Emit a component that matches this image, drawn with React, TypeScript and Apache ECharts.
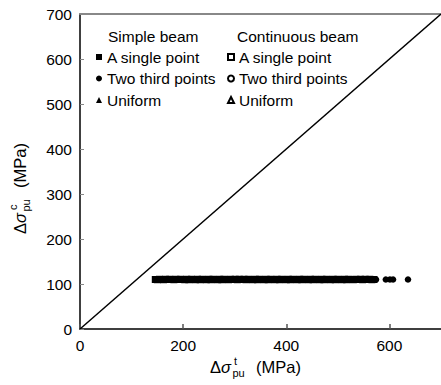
import React, { useEffect, useRef } from "react";
import * as echarts from "echarts";

const xTicks = [0, 200, 400, 600];
const yTicks = [0, 100, 200, 300, 400, 500, 600, 700];
const legendSimple = ["A single point", "Two third points", "Uniform"];
const legendContinuous = ["A single point", "Two third points", "Uniform"];
const diagonal: [number, number][] = [[0, 0], [700, 700]];

// Simple beam, a single point (the dense band)
const simpleSingle: [number, number][] = [
  [146, 110], [150, 109.5], [154, 110.5], [158, 110], [162, 109.5], [166, 110.5], [170, 110], [174, 110.5],
  [178, 110], [182, 109.5], [186, 110.5], [190, 110], [195, 110.5], [199, 110], [203, 109.5], [207, 110.5],
  [211, 109.5], [216, 110.5], [220, 110], [224, 109.5], [228, 110.5], [233, 109.5], [237, 110.5], [241, 110],
  [245, 109.5], [250, 110.5], [254, 109.5], [258, 110.5], [262, 110], [267, 109.5], [271, 110.5], [275, 109.5],
  [279, 110.5], [284, 110], [288, 109.5], [292, 110.5], [296, 110], [301, 110.5], [305, 109.5], [309, 110.5],
  [314, 110], [318, 110.5], [322, 109.5], [327, 110.5], [331, 110], [335, 109.5], [340, 110.5], [344, 109.5],
  [348, 110.5], [352, 110], [357, 109.5], [361, 110.5], [365, 109.5], [370, 110.5], [374, 110], [378, 109.5],
  [382, 110.5], [387, 109.5], [391, 110.5], [395, 110], [400, 109.5], [404, 110.5], [408, 109.5], [413, 110.5],
  [417, 110], [421, 109.5], [426, 110.5], [430, 109.5], [434, 110.5], [439, 110], [443, 109.5], [447, 110.5],
  [452, 109.5], [456, 110.5], [460, 110], [465, 109.5], [469, 110.5], [473, 109.5], [478, 110.5], [482, 110],
  [486, 109.5], [491, 110.5], [495, 109.5], [500, 110.5], [504, 110], [508, 109.5], [513, 110.5], [517, 109.5],
  [521, 110.5], [526, 110], [530, 109.5], [535, 110.5], [539, 110], [544, 110.5], [548, 109.5], [553, 110.5],
  [557, 110], [562, 110.5], [566, 109.5], [570, 110],
];
// Simple beam, two third points
const simpleTwoThird: [number, number][] = [
  [574, 110], [593, 110], [601, 110], [607, 110], [636, 110],
];
const simpleUniform: [number, number][] = [];
const contSingle: [number, number][] = [];
const contTwoThird: [number, number][] = [];
const contUniform: [number, number][] = [];

const FONT = "'Liberation Sans', Arial, sans-serif";

function axisNameChildren(sup: string) {
  const main = 16.5;
  const small = 11;
  return [
    { type: "text", x: 0, y: 0, style: { text: "Δ", font: `${main}px ${FONT}`, fill: "#000", verticalAlign: "middle" } },
    { type: "text", x: 11, y: 0, style: { text: "σ", font: `italic ${main}px ${FONT}`, fill: "#000", verticalAlign: "middle" } },
    { type: "text", x: 24, y: -6.5, style: { text: sup, font: `${small}px ${FONT}`, fill: "#000", verticalAlign: "middle" } },
    { type: "text", x: 22.5, y: 6, style: { text: "pu", font: `${small}px ${FONT}`, fill: "#000", verticalAlign: "middle" } },
    { type: "text", x: 46, y: 0, style: { text: "(MPa)", font: `${main}px ${FONT}`, fill: "#000", verticalAlign: "middle" } },
  ];
}

export default function App() {
  const ref = useRef<HTMLDivElement>(null);
  useEffect(() => {
    if (!ref.current) return;
    const chart = echarts.init(ref.current, undefined, { renderer: "svg" });
    const filled = { color: "#000", opacity: 1 };
    const hollow = { color: "#fff", borderColor: "#000", borderWidth: 1, opacity: 1 };
    const names: Record<string, string> = {
      sb1: legendSimple[0], sb2: legendSimple[1], sb3: legendSimple[2],
      cb1: legendContinuous[0], cb2: legendContinuous[1], cb3: legendContinuous[2],
    };
    const legendBase = {
      orient: "vertical",
      top: 44,
      itemWidth: 6,
      itemHeight: 6,
      itemGap: 5.5,
      itemTextGap: 5,
      textStyle: { fontSize: 15.5, fontFamily: FONT, color: "#000" },
      formatter: (n: string) => names[n],
      selectedMode: false,
    };
    chart.setOption({
      animation: false,
      grid: { left: 80, right: -3, top: 14, bottom: 56, containLabel: false },
      xAxis: [
        {
          type: "value", min: 0, max: 700, interval: 200,
          axisLine: { lineStyle: { color: "#000", width: 1.5 } },
          axisTick: { inside: true, length: 5, lineStyle: { color: "#555", width: 1.5 } },
          axisLabel: { fontSize: 15.5, fontFamily: FONT, color: "#000", margin: 8, showMaxLabel: false,
            formatter: (v: number) => (xTicks.includes(v) ? String(v) : "") },
          splitLine: { show: false },
        },
        {
          type: "value", position: "top", min: 0, max: 700,
          axisLine: { show: true, lineStyle: { color: "#888", width: 2 } },
          axisTick: { show: false }, axisLabel: { show: false }, splitLine: { show: false },
        },
      ],
      yAxis: {
        type: "value", min: 0, max: 700, interval: 100,
        axisLine: { show: true, lineStyle: { color: "#000", width: 1.5 } },
        axisTick: { inside: true, length: 4, lineStyle: { color: "#888", width: 1 } },
        axisLabel: { fontSize: 15.5, fontFamily: FONT, color: "#000", margin: 8,
          formatter: (v: number) => (yTicks.includes(v) ? String(v) : "") },
        splitLine: { show: false },
      },
      legend: [
        { ...legendBase, left: 91, data: ["sb1", "sb2", "sb3"] },
        { ...legendBase, left: 222, data: ["cb1", "cb2", "cb3"] },
      ],
      graphic: [
        { type: "text", left: 108, top: 28, style: { text: "Simple beam", font: `15.5px ${FONT}`, fill: "#000" } },
        { type: "text", left: 237, top: 28, style: { text: "Continuous beam", font: `15.5px ${FONT}`, fill: "#000" } },
        { type: "group", x: 210, y: 367, children: axisNameChildren("t") },
        { type: "group", x: 19.5, y: 234, rotation: Math.PI / 2, children: axisNameChildren("c") },
      ],
      series: [
        { type: "line", data: diagonal, symbol: "none", lineStyle: { color: "#000", width: 1.5 }, silent: true, z: 1 },
        { name: "sb1", type: "scatter", symbol: "rect", symbolSize: [7, 7], itemStyle: filled, data: simpleSingle },
        { name: "sb2", type: "scatter", symbol: "circle", symbolSize: 6.5, itemStyle: filled, data: simpleTwoThird },
        { name: "sb3", type: "scatter", symbol: "triangle", symbolSize: 7, itemStyle: filled, data: simpleUniform },
        { name: "cb1", type: "scatter", symbol: "rect", symbolSize: 6, itemStyle: hollow, data: contSingle },
        { name: "cb2", type: "scatter", symbol: "circle", symbolSize: 6, itemStyle: hollow, data: contTwoThird },
        { name: "cb3", type: "scatter", symbol: "triangle", symbolSize: 7, itemStyle: hollow, data: contUniform },
      ],
    });
    return () => chart.dispose();
  }, []);
  return <div ref={ref} style={{ width: 441, height: 385, position: "absolute", left: 0, top: 0 }} />;
}
